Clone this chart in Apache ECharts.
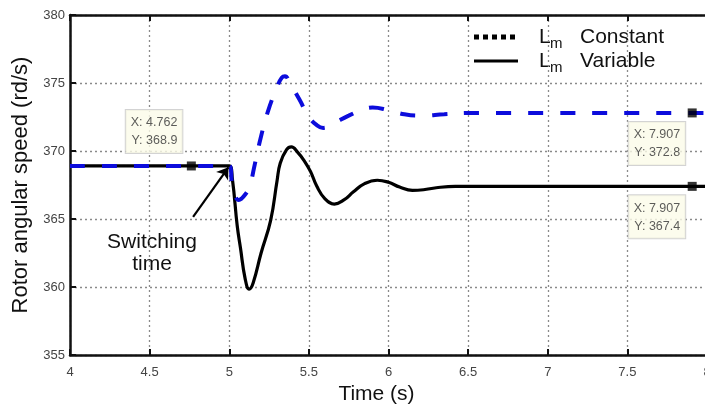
<!DOCTYPE html>
<html><head><meta charset="utf-8">
<script src="https://cdn.jsdelivr.net/npm/echarts@6/dist/echarts.min.js"></script>
<style>html,body{margin:0;padding:0;background:#fff}#c{width:705px;height:406px}</style>
</head><body><div id="c"></div>
<script>
// Time (s) and rotor speed (rd/s)
const timeVariable = [4.0,5.0,5.02,5.05,5.07,5.1,5.125,5.15,5.2,5.26,5.3,5.32,5.36,5.39,5.43,5.47,5.51,5.55,5.6,5.66,5.72,5.78,5.85,5.93,6.0,6.07,6.15,6.22,6.3,6.42,8.0];
const speedVariable = [368.9,368.9,367.9,364.5,362.9,360.6,359.85,360.3,362.5,364.9,367.8,369.1,370.1,370.3,369.9,369.3,368.5,367.4,366.5,366.1,366.4,367.0,367.6,367.85,367.7,367.35,367.1,367.15,367.3,367.4,367.4];
const timeConstant = [4.0,5.0,5.02,5.06,5.1,5.13,5.16,5.19,5.24,5.3,5.33,5.35,5.38,5.44,5.5,5.55,5.59,5.65,5.75,5.85,5.9,6.0,6.1,6.2,6.35,6.5,8.0];
const speedConstant = [368.9,368.9,367.5,366.4,366.8,367.5,369.0,370.6,372.8,374.7,375.4,375.5,375.0,373.8,372.5,371.9,371.7,372.0,372.6,373.1,373.2,373.0,372.7,372.6,372.7,372.8,372.8];
// data tips
const tipX = [4.762, 7.907, 7.907];
const tipY = [368.9, 372.8, 367.4];
// switching-time arrow (data coords): start, end
const arrowFrom = [4.773, 365.15];
const arrowTo = [4.995, 368.8];
const xTicks = {min: 4, max: 8, interval: 0.5};
const yTicks = {min: 355, max: 380, interval: 5};

const zip = (a, b) => a.map((v, i) => [v, b[i]]);
const chart = echarts.init(document.getElementById('c'));
const F = 'Liberation Sans, Arial, Helvetica, sans-serif';
const gridStyle = {show: true, lineStyle: {color: '#8a8a8a', type: [2, 3], width: 1.3}};
chart.setOption({
  animation: false,
  grid: {left: 70, top: 15, width: 637, height: 340, containLabel: false, outerBoundsMode: 'none'},
  xAxis: [{
    type: 'value', min: xTicks.min, max: xTicks.max, interval: xTicks.interval,
    axisLine: {lineStyle: {color: '#111', width: 2.5}, onZero: false},
    axisTick: {inside: true, length: 6, lineStyle: {color: '#111', width: 2}},
    axisLabel: {color: '#444', fontSize: 13, fontFamily: F, margin: 11, hideOverlap: false},
    splitLine: gridStyle,
    name: 'Time (s)', nameLocation: 'middle', nameGap: 28,
    nameTextStyle: {color: '#111', fontSize: 21, fontFamily: F, padding: [0, 24, 0, 0]}
  }, {
    type: 'value', position: 'top', min: xTicks.min, max: xTicks.max, interval: xTicks.interval,
    axisLine: {lineStyle: {color: '#111', width: 2.5}, onZero: false},
    axisTick: {inside: true, length: 6, lineStyle: {color: '#111', width: 2}},
    axisLabel: {show: false}, splitLine: {show: false}
  }],
  yAxis: {
    type: 'value', min: yTicks.min, max: yTicks.max, interval: yTicks.interval,
    axisLine: {show: true, lineStyle: {color: '#111', width: 2.5}, onZero: false},
    axisTick: {show: true, inside: true, length: 6, lineStyle: {color: '#111', width: 2}},
    axisLabel: {color: '#444', fontSize: 13, fontFamily: F, margin: 5},
    splitLine: gridStyle,
    name: 'Rotor angular speed (rd/s)', nameLocation: 'middle', nameGap: 37,
    nameTextStyle: {color: '#111', fontSize: 22, fontFamily: F}
  },
  series: [{
    name: 'Lm Variable', type: 'line', data: zip(timeVariable, speedVariable),
    showSymbol: false, smooth: 0.45, z: 2,
    lineStyle: {color: '#000', width: 3.2},
    markLine: {
      silent: true, symbol: ['none', 'arrow'], symbolSize: 11,
      label: {show: false},
      lineStyle: {color: '#000', width: 2.2, type: 'solid'},
      data: [[{coord: arrowFrom}, {coord: arrowTo}]]
    }
  }, {
    name: 'Lm Constant', type: 'line', data: zip(timeConstant, speedConstant),
    showSymbol: false, smooth: 0.45, z: 3,
    lineStyle: {color: '#0c0cdc', width: 4, type: [15, 17]}
  }, {
    type: 'scatter', z: 5, symbol: 'rect', symbolSize: 9,
    itemStyle: {color: '#000'},
    data: zip(tipX, tipY).map((p, i) => ({
      value: p,
      label: i === 0
        ? {position: [-4.5, -8.5], align: 'right', verticalAlign: 'bottom'}
        : {position: [-2.5, 13.5], align: 'right', verticalAlign: 'top'}
    })),
    label: {
      show: true, fontSize: 12.5, fontFamily: F, color: '#333', lineHeight: 18,
      backgroundColor: '#fbfbe8', borderColor: '#c8c8c8', borderWidth: 1,
      padding: [4, 5, 3, 5],
      formatter: p => 'X: ' + p.value[0].toFixed(3) + '\nY: ' + p.value[1].toFixed(1)
    }
  }],
  graphic: [
    {type: 'line', shape: {x1: 474, y1: 37, x2: 518, y2: 37}, style: {stroke: '#000', lineWidth: 5, lineDash: [5, 4]}},
    {type: 'line', shape: {x1: 474, y1: 61, x2: 518, y2: 61}, style: {stroke: '#000', lineWidth: 3}},
    {type: 'text', x: 539, y: 37, style: {text: 'L', font: '21px ' + F, fill: '#111', textVerticalAlign: 'middle'}},
    {type: 'text', x: 550, y: 44, style: {text: 'm', font: '15px ' + F, fill: '#111', textVerticalAlign: 'middle'}},
    {type: 'text', x: 580, y: 37, style: {text: 'Constant', font: '21px ' + F, fill: '#111', textVerticalAlign: 'middle'}},
    {type: 'text', x: 539, y: 61, style: {text: 'L', font: '21px ' + F, fill: '#111', textVerticalAlign: 'middle'}},
    {type: 'text', x: 550, y: 68, style: {text: 'm', font: '15px ' + F, fill: '#111', textVerticalAlign: 'middle'}},
    {type: 'text', x: 580, y: 61, style: {text: 'Variable', font: '21px ' + F, fill: '#111', textVerticalAlign: 'middle'}},
    {type: 'text', x: 152, y: 253, style: {text: 'Switching\ntime', font: '21px ' + F, fill: '#111', textAlign: 'center', textVerticalAlign: 'middle', lineHeight: 22}}
  ]
});
</script></body></html>
